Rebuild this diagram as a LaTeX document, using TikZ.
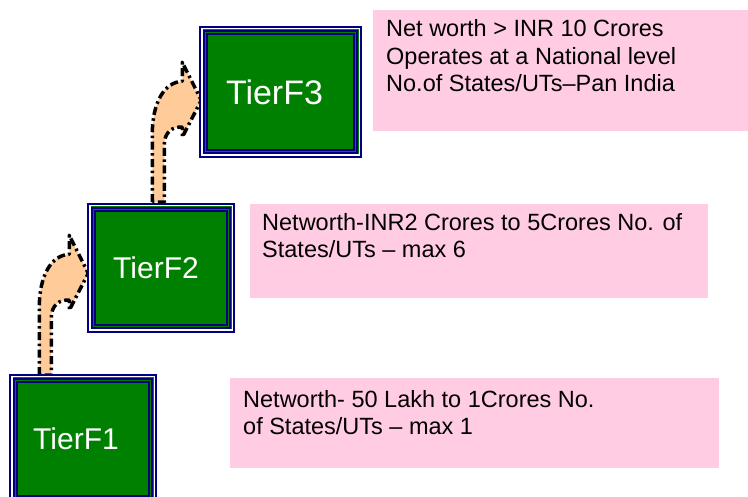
\documentclass[tikz,border=0pt]{standalone}
\usepackage{fontspec}
\setmainfont{Liberation Sans}
\usetikzlibrary{calc,backgrounds}
\definecolor{tgreen}{RGB}{0,128,0}
\definecolor{tnavy}{RGB}{0,0,128}
\definecolor{tpink}{RGB}{255,204,228}
\definecolor{tpeach}{RGB}{255,204,153}
\begin{document}
\begin{tikzpicture}[x=1pt,y=-1pt,
  tierbox/.style={rectangle, draw=tnavy, line width=1.5pt, fill=white, inner sep=0pt,
    path picture={
      \fill[tgreen] ([shift={(2.5,2.5)}]path picture bounding box.north west) rectangle ([shift={(-2.5,-2.5)}]path picture bounding box.south east);
      \draw[tnavy,line width=2pt] ([shift={(4,4)}]path picture bounding box.north west) rectangle ([shift={(-4,-4)}]path picture bounding box.south east);
      \draw[tnavy,line width=2pt] ([shift={(7,7)}]path picture bounding box.north west) rectangle ([shift={(-7,-7)}]path picture bounding box.south east);
    }},
  tiertext/.style={text=white, inner sep=0pt, font=\fontsize{30}{36}\selectfont},
  pinkbox/.style={rectangle, fill=tpink, draw=none, inner sep=0pt, anchor=north west},
  pinktext/.style={inner sep=0pt, align=left, anchor=base west, font=\fontsize{23.5}{27.5}\selectfont},
  blockarrow/.style={fill=tpeach, draw=black, line width=3.5pt, line join=round,
    dash pattern=on 8pt off 3.5pt on 2.5pt off 3.5pt}
]
\useasboundingbox (0,0) rectangle (748,497);
\clip (0,0) rectangle (748,497);

% tier boxes
\node[tierbox, minimum width=161, minimum height=130] (t3) at (280.5,92) {};
\node[tierbox, minimum width=146, minimum height=128] (t2) at (161,268) {};
\node[tierbox, minimum width=146, minimum height=128] (t1) at (83,439) {};
\node[tiertext, font=\fontsize{34}{40}\selectfont] (t3l) at ([xshift=-6]t3.center) {TierF3};
\node[tiertext] (t2l) at ([xshift=-5]t2.center) {TierF2};
\node[tiertext] (t1l) at ([xshift=-7]t1.center) {TierF1};

% pink description boxes
\node[pinkbox, minimum width=375, minimum height=121] (p3) at (373,10) {};
\node[pinkbox, minimum width=458, minimum height=94] (p2) at (250,204) {};
\node[pinkbox, minimum width=489, minimum height=90] (p1) at (230,378) {};
% anchored at the baseline of the last line
\node[pinktext] (p3t) at (386,92) {Net worth > INR 10 Crores\\Operates at a National level\\No.of States/UTs–Pan India};
\node[pinktext] (p2t) at (262,258) {Networth-INR2 Crores to 5Crores No. of\\States/UTs – max 6};
\node[pinktext] (p1t) at (243,435) {Networth- 50 Lakh to 1Crores No.\\of States/UTs – max 1};

% curved block arrows
\begin{scope}[on background layer]
\begin{scope}[shift={($(t1.north west)+(30,1)$)}]
\draw[blockarrow] (0,0) -- (0,-67) .. controls (0,-100) and (12,-120) .. (30,-121)
  -- (30,-140) -- (49,-102) -- (30,-65) -- (30,-75)
  .. controls (20,-76) and (12,-70) .. (12,-57) -- (12,0) -- cycle;
\end{scope}
\begin{scope}[shift={($(t2.north west)+(65,-1)$)}]
\draw[blockarrow] (0,0) -- (0,-67) .. controls (0,-100) and (12,-120) .. (30,-121)
  -- (30,-140) -- (49,-102) -- (30,-65) -- (30,-75)
  .. controls (20,-76) and (12,-70) .. (12,-57) -- (12,0) -- cycle;
\end{scope}
\end{scope}
\end{tikzpicture}
\end{document}
